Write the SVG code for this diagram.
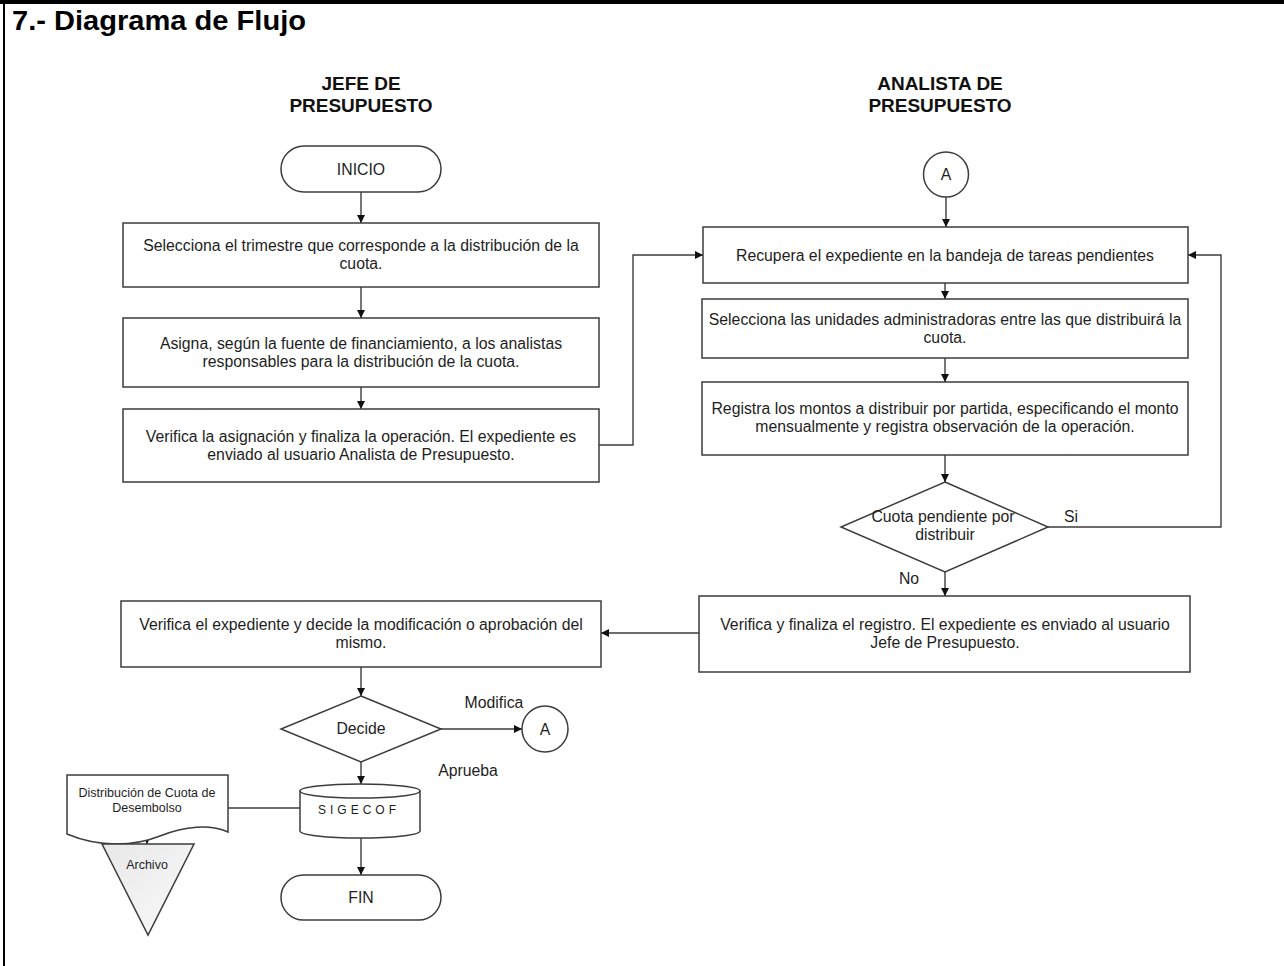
<svg xmlns="http://www.w3.org/2000/svg" width="1284" height="966" viewBox="0 0 1284 966">
<defs>
<marker id="arr" viewBox="0 0 10 10" refX="10" refY="5" markerWidth="9" markerHeight="8" markerUnits="userSpaceOnUse" orient="auto">
<path d="M0,0 L10,5 L0,10 Z" fill="#111"/>
</marker>
<linearGradient id="tri" x1="0" y1="0" x2="1" y2="1">
<stop offset="0" stop-color="#e8e8e8"/>
<stop offset="1" stop-color="#fafafa"/>
</linearGradient>
</defs>
<style>
.shape{fill:#fff;stroke:#3c3c3c;stroke-width:1.5}
.conn{fill:none;stroke:#3c3c3c;stroke-width:1.4}
.t{font-family:"Liberation Sans",Arial,sans-serif;font-size:15.8px;fill:#1e1e1e;text-anchor:middle}
.s{font-family:"Liberation Sans",Arial,sans-serif;font-size:12.5px;fill:#1e1e1e;text-anchor:middle}
.h{font-family:"Liberation Sans",Arial,sans-serif;font-size:19px;font-weight:bold;fill:#111;text-anchor:middle}
</style>
<rect width="1284" height="966" fill="#fff"/>
<rect x="0" y="0" width="1284" height="4" fill="#000"/>
<rect x="3" y="0" width="2" height="966" fill="#000"/>
<text x="12" y="30" font-family="Liberation Sans, Arial, sans-serif" font-size="27" font-weight="bold" fill="#000" textLength="294" lengthAdjust="spacingAndGlyphs">7.- Diagrama de Flujo</text>

<g id="lane-jefe"><text class="h" x="361" y="90">JEFE DE</text><text class="h" x="361" y="112">PRESUPUESTO</text></g>
<g id="lane-analista"><text class="h" x="940" y="90">ANALISTA DE</text><text class="h" x="940" y="112">PRESUPUESTO</text></g>

<g id="connectors">
<line class="conn" x1="361" y1="192" x2="361" y2="223" marker-end="url(#arr)"/>
<line class="conn" x1="361" y1="287" x2="361" y2="318" marker-end="url(#arr)"/>
<line class="conn" x1="361" y1="387" x2="361" y2="409" marker-end="url(#arr)"/>
<polyline class="conn" points="599,445 633,445 633,255 703,255" marker-end="url(#arr)"/>
<line class="conn" x1="946" y1="197" x2="946" y2="227" marker-end="url(#arr)"/>
<line class="conn" x1="945" y1="283" x2="945" y2="299" marker-end="url(#arr)"/>
<line class="conn" x1="945" y1="358" x2="945" y2="382" marker-end="url(#arr)"/>
<line class="conn" x1="945" y1="455" x2="945" y2="482" marker-end="url(#arr)"/>
<polyline class="conn" points="1048,527 1221,527 1221,255 1188,255" marker-end="url(#arr)"/>
<line class="conn" x1="945" y1="572" x2="945" y2="596" marker-end="url(#arr)"/>
<line class="conn" x1="699" y1="633" x2="601" y2="633" marker-end="url(#arr)"/>
<line class="conn" x1="361" y1="667" x2="361" y2="696" marker-end="url(#arr)"/>
<line class="conn" x1="441" y1="729" x2="522" y2="729" marker-end="url(#arr)"/>
<line class="conn" x1="361" y1="762" x2="361" y2="784" marker-end="url(#arr)"/>
<line class="conn" x1="300" y1="808" x2="228" y2="808"/>
<line class="conn" x1="147" y1="836" x2="147" y2="844" marker-end="url(#arr)"/>
<line class="conn" x1="361" y1="838" x2="361" y2="875" marker-end="url(#arr)"/>
<text class="t" x="1071" y="522">Si</text>
<text class="t" x="909" y="584">No</text>
<text class="t" x="494" y="708">Modifica</text>
<text class="t" x="468" y="776">Aprueba</text>
</g>

<g id="inicio"><rect class="shape" x="281" y="146" width="160" height="46" rx="23"/><text class="t" x="361" y="175">INICIO</text></g>
<g id="selecciona-trimestre"><rect class="shape" x="123" y="223" width="476" height="64"/><text class="t" x="361" y="251">Selecciona el trimestre que corresponde a la distribución de la</text><text class="t" x="361" y="269">cuota.</text></g>
<g id="asigna"><rect class="shape" x="123" y="318" width="476" height="69"/><text class="t" x="361" y="349">Asigna, según la fuente de financiamiento, a los analistas</text><text class="t" x="361" y="367">responsables para la distribución de la cuota.</text></g>
<g id="verifica-asignacion"><rect class="shape" x="123" y="409" width="476" height="73"/><text class="t" x="361" y="442">Verifica la asignación y finaliza la operación. El expediente es</text><text class="t" x="361" y="460">enviado al usuario Analista de Presupuesto.</text></g>

<g id="conector-a-top"><circle class="shape" cx="946" cy="174.5" r="22.5"/><text class="t" x="946" y="180">A</text></g>
<g id="recupera"><rect class="shape" x="703" y="227" width="485" height="56"/><text class="t" x="945" y="260.5">Recupera el expediente en la bandeja de tareas pendientes</text></g>
<g id="selecciona-unidades"><rect class="shape" x="702" y="299" width="486" height="59"/><text class="t" x="945" y="324.5">Selecciona las unidades administradoras entre las que distribuirá la</text><text class="t" x="945" y="342.5">cuota.</text></g>
<g id="registra"><rect class="shape" x="702" y="382" width="486" height="73"/><text class="t" x="945" y="414">Registra los montos a distribuir por partida, especificando el monto</text><text class="t" x="945" y="432">mensualmente y registra observación de la operación.</text></g>
<g id="cuota-pendiente"><polygon class="shape" points="945,482 1048,527 945,572 841,527"/><text class="t" x="943" y="522">Cuota pendiente por</text><text class="t" x="945" y="540">distribuir</text></g>
<g id="verifica-registro"><rect class="shape" x="699" y="596" width="491" height="76"/><text class="t" x="945" y="629.5">Verifica y finaliza el registro. El expediente es enviado al usuario</text><text class="t" x="945" y="647.5">Jefe de Presupuesto.</text></g>

<g id="verifica-expediente"><rect class="shape" x="121" y="601" width="480" height="66"/><text class="t" x="361" y="630">Verifica el expediente y decide la modificación o aprobación del</text><text class="t" x="361" y="648">mismo.</text></g>
<g id="decide"><polygon class="shape" points="361,696 441,729 361,762 281,729"/><text class="t" x="361" y="734">Decide</text></g>
<g id="conector-a-bottom"><circle class="shape" cx="545" cy="729" r="23"/><text class="t" x="545" y="734.5">A</text></g>
<g id="sigecof"><path class="shape" d="M300,791 V831 A60,7 0 0 0 420,831 V791"/><ellipse class="shape" cx="360" cy="791" rx="60" ry="7"/><text x="318" y="814" font-family="Liberation Sans, Arial, sans-serif" font-size="12" letter-spacing="4" fill="#1e1e1e">SIGECOF</text></g>
<g id="documento"><path class="shape" d="M67,775 H228 V832 C210,824 185,826 160,836 C135,846 100,848 67,834 Z"/><text class="s" x="147" y="797">Distribución de Cuota de</text><text class="s" x="147" y="812">Desembolso</text></g>
<g id="archivo"><polygon points="102,844 194,844 148,935" fill="url(#tri)" stroke="#3c3c3c" stroke-width="1.5"/><text class="s" x="147" y="869">Archivo</text></g>
<g id="fin"><rect class="shape" x="281" y="875" width="160" height="45" rx="22.5"/><text class="t" x="361" y="903">FIN</text></g>
</svg>
